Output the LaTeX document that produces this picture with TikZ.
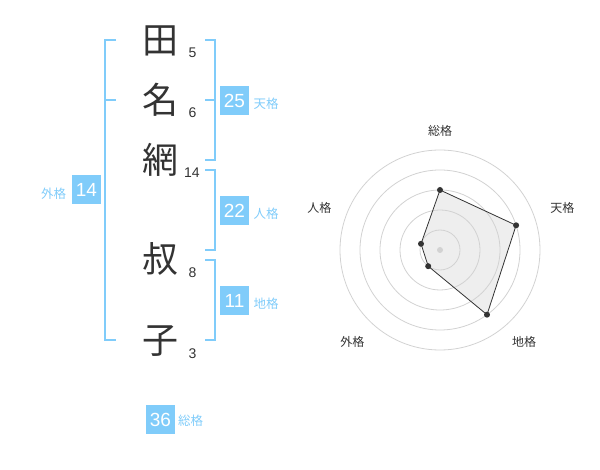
\documentclass[tikz,border=0pt]{standalone}
\usepackage{fontspec}
\setmainfont{Liberation Sans}
\newfontfamily\cjk{Noto Sans CJK JP}
\definecolor{nblue}{RGB}{128,204,250}
\definecolor{ink}{RGB}{51,51,51}
\definecolor{ringc}{RGB}{210,210,210}
\definecolor{polyfill}{RGB}{238,238,238}
\begin{document}
\begin{tikzpicture}[x=1pt,y=-1pt,
 kanji/.style={font=\cjk\fontsize{36}{36}\selectfont, text=ink, inner sep=0pt},
 strokes/.style={font=\fontsize{14}{14}\selectfont, text=ink, inner sep=0pt},
 valbox/.style={fill=nblue, text=white, font=\fontsize{19}{19}\selectfont, minimum width=29pt, minimum height=29pt, inner sep=0pt},
 kaku/.style={font=\cjk\fontsize{12.5}{12.5}\selectfont, text=nblue, inner sep=0pt},
 bracket/.style={draw=nblue, line width=2pt},
 rlabel/.style={font=\cjk\fontsize{12}{12}\selectfont, text=ink, inner sep=0pt},
 ring/.style={draw=ringc, line width=0.8pt},
 dot/.style={circle, fill=ink, minimum size=6pt, inner sep=0pt}]
\useasboundingbox (0,0) rectangle (600,470);
% name characters
\node[kanji] (c1) at (160,41) {田};
\node[kanji] (c2) at (160,100) {名};
\node[kanji] (c3) at (160,160) {網};
\node[kanji] (c4) at (160,259) {叔};
\node[kanji] (c5) at (160,341) {子};
% stroke counts
\node[strokes] (s1) at (192.5,52.5) {5};
\node[strokes] (s2) at (192.5,113) {6};
\node[strokes] (s3) at (192,172.5) {14};
\node[strokes] (s4) at (192.5,272.5) {8};
\node[strokes] (s5) at (192.5,353.5) {3};
% brackets
\draw[bracket] (116,40) -- (105,40) -- (105,340) -- (116,340);
\draw[bracket] (105,100) -- (116,100);
\draw[bracket] (205,40) -- (214.5,40) -- (214.5,160) -- (205,160);
\draw[bracket] (205,100) -- (214.5,100);
\draw[bracket] (205,170) -- (214.5,170) -- (214.5,250) -- (205,250);
\draw[bracket] (205,260) -- (214.5,260) -- (214.5,340) -- (205,340);
% value boxes
\node[valbox] (ten) at (234.5,100.5) {25};
\node[kaku] (tenl) at (266,104) {天格};
\node[valbox] (jin) at (234.5,210.5) {22};
\node[kaku] (jinl) at (266,214) {人格};
\node[valbox] (chi) at (234.5,300.5) {11};
\node[kaku] (chil) at (266,304) {地格};
\node[valbox] (gai) at (86.5,190) {14};
\node[kaku] (gail) at (53.5,194) {外格};
\node[valbox] (sou) at (160.5,419.5) {36};
\node[kaku] (soul) at (190.5,421) {総格};
% radar chart
\coordinate (rc) at (440,250);
\coordinate (p1) at (440,190);
\coordinate (p2) at (516.1,225.3);
\coordinate (p3) at (487.0,314.7);
\coordinate (p4) at (428.2,266.2);
\coordinate (p5) at (421.0,243.8);
\fill[polyfill] (p1) -- (p2) -- (p3) -- (p4) -- (p5) -- cycle;
\foreach \r in {20,40,60,80,100} \draw[ring] (rc) circle (\r);
\fill[ringc] (rc) circle (3);
\draw[ink, line width=0.8pt] (p1) -- (p2) -- (p3) -- (p4) -- (p5) -- cycle;
\foreach \p in {p1,p2,p3,p4,p5} \node[dot] (d\p) at (\p) {};
\node[rlabel] (r1) at (440,130.7) {総格};
\node[rlabel] (r2) at (562.3,208.3) {天格};
\node[rlabel] (r3) at (524,341.7) {地格};
\node[rlabel] (r4) at (352.3,341.7) {外格};
\node[rlabel] (r5) at (319.3,208.3) {人格};
\end{tikzpicture}
\end{document}
